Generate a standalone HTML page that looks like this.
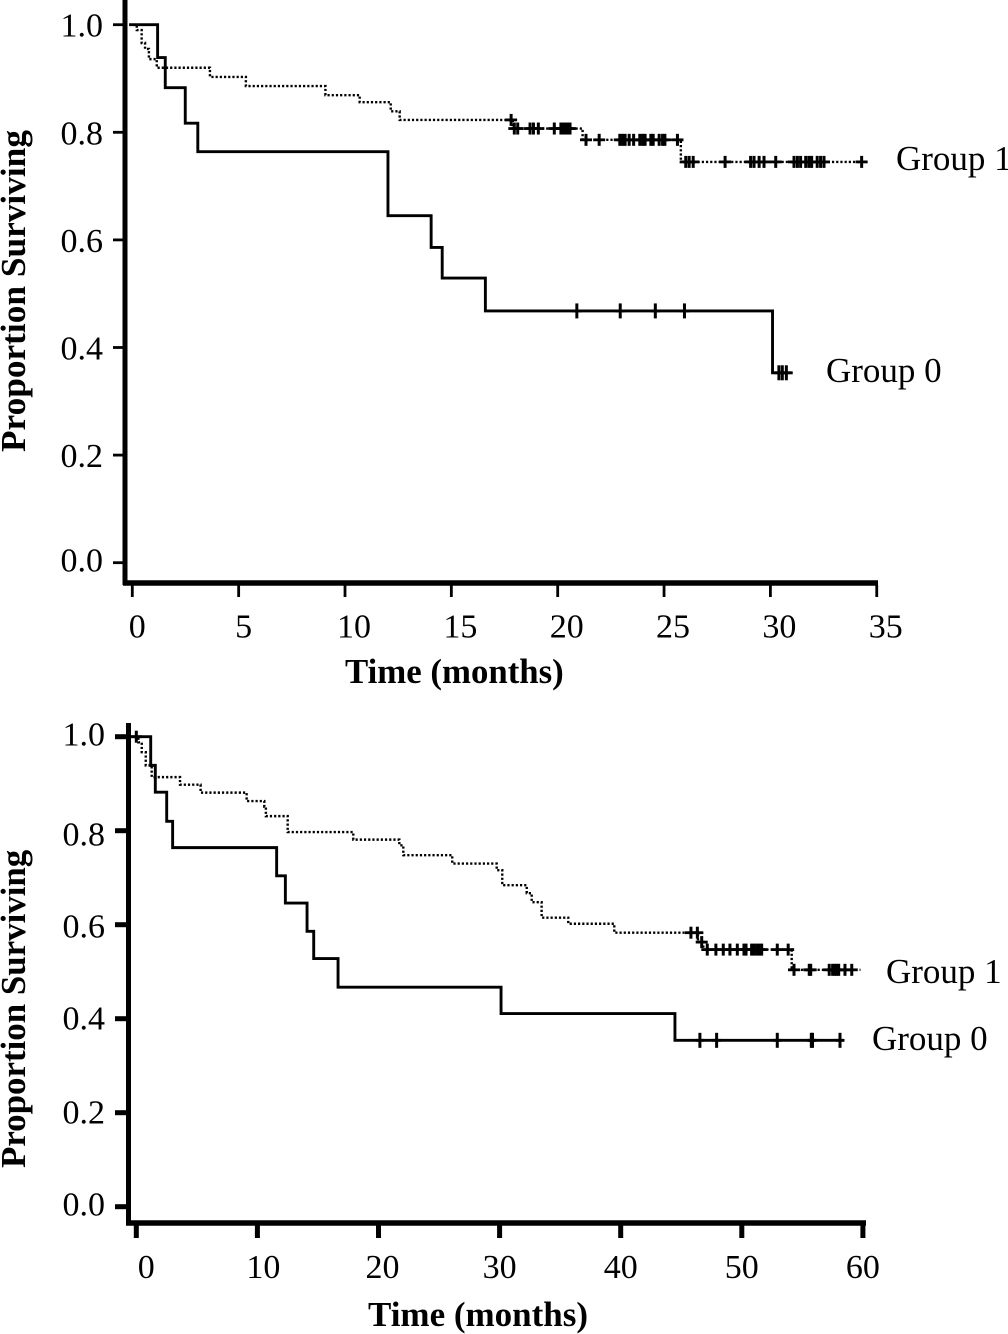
<!DOCTYPE html>
<html>
<head>
<meta charset="utf-8">
<title>Kaplan-Meier survival curves</title>
<style>
html,body{margin:0;padding:0;background:#fff;}
svg{display:block;}
text{font-family:"Liberation Serif",serif;fill:#000;}
.tick{font-size:34px;}
.title{font-weight:bold;}
.group{font-size:35px;}
</style>
</head>
<body>
<svg id="chart" width="1008" height="1334" viewBox="0 0 1008 1334" xmlns="http://www.w3.org/2000/svg">
  <rect x="0" y="0" width="1008" height="1334" fill="#fff"/>
  <text class="title" font-size="35.3" transform="translate(25,452) rotate(-90)">Proportion Surviving</text>
  <text class="title" font-size="34.8" x="345" y="683">Time (months)</text>
  <text class="group" x="896" y="170">Group 1</text>
  <text class="group" x="826" y="382">Group 0</text>
  <text class="title" font-size="34.9" transform="translate(25,1168) rotate(-90)">Proportion Surviving</text>
  <text class="title" font-size="35" x="368" y="1326">Time (months)</text>
  <text class="group" x="886" y="983">Group 1</text>
  <text class="group" x="872" y="1050">Group 0</text>
</svg>
<script>
var yTicks = [0, 0.2, 0.4, 0.6, 0.8, 1.0];
var yTickLabels = ["0.0", "0.2", "0.4", "0.6", "0.8", "1.0"];

var topXTicks = [0, 5, 10, 15, 20, 25, 30, 35];
var topXTickLabels = ["0", "5", "10", "15", "20", "25", "30", "35"];

var topG0Times = [-0.15, 1.19, 1.55, 2.49, 3.08, 12.02, 14.05, 14.57, 16.6, 30.1];
var topG0Surv = [1.0, 0.939, 0.883, 0.817, 0.764, 0.645, 0.586, 0.529, 0.468, 0.353];
var topG0Censored = [20.9, 22.94, 24.59, 25.96, 30.4, 30.56, 30.75];
var topG0End = 31.05;

var topG1Times = [0.05, 0.21, 0.44, 0.6, 0.78, 1.15, 3.65, 5.34, 9.08, 10.69, 12.15, 12.57, 17.89, 21.17, 25.79];
var topG1Surv = [1.0, 0.99, 0.966, 0.955, 0.936, 0.92, 0.903, 0.886, 0.869, 0.856, 0.839, 0.823, 0.807, 0.786, 0.745];
var topG1Censored = [17.81, 17.96, 18.12, 18.7, 18.86, 19.09, 19.84, 20.15, 20.26, 20.36, 20.47, 20.58, 21.33, 21.95, 22.92, 23.05, 23.17, 23.36, 23.57, 23.86, 23.99, 24.11, 24.38, 24.49, 24.77, 24.93, 25.04, 25.63, 26.02, 26.18, 26.37, 27.87, 29.07, 29.23, 29.47, 29.7, 30.25, 31.11, 31.27, 31.42, 31.66, 31.81, 31.94, 32.2, 32.36, 32.52, 34.29];
var topG1End = 34.54;

var bottomXTicks = [0, 10, 20, 30, 40, 50, 60];
var bottomXTickLabels = ["0", "10", "20", "30", "40", "50", "60"];

var bottomG0Times = [-0.5, 1.19, 1.57, 2.51, 3.0, 11.59, 12.31, 14.1, 14.65, 16.66, 30.12, 44.48];
var bottomG0Surv = [1.0, 0.939, 0.882, 0.82, 0.764, 0.704, 0.646, 0.586, 0.528, 0.467, 0.411, 0.354];
var bottomG0Censored = [46.54, 47.92, 52.93, 55.74, 55.84, 58.11];
var bottomG0End = 58.4;

var bottomG1Times = [-0.1, 0.17, 0.45, 0.78, 1.27, 3.61, 5.31, 9.11, 10.57, 10.7, 12.5, 17.92, 21.72, 22.05, 26.09, 29.76, 30.22, 32.24, 32.65, 33.47, 35.67, 39.47, 46.38, 46.82, 54.12];
var bottomG1Surv = [1.0, 0.988, 0.967, 0.939, 0.914, 0.898, 0.881, 0.863, 0.851, 0.831, 0.797, 0.781, 0.769, 0.748, 0.73, 0.716, 0.684, 0.667, 0.648, 0.615, 0.602, 0.583, 0.563, 0.547, 0.504];
var bottomG1Censored = [0, 45.8, 46.33, 46.69, 47.15, 47.86, 48.47, 49.02, 49.63, 50.18, 50.35, 50.81, 51.0, 51.23, 51.44, 51.64, 52.93, 53.83, 54.31, 55.57, 55.69, 57.22, 57.5, 57.67, 57.83, 58.0, 58.52, 59.08];
var bottomG1End = 59.8;

var svg = document.getElementById('chart');
var NS = 'http://www.w3.org/2000/svg';
var INK = '#000';

function drawLine(parent, x1, y1, x2, y2, w, name) {
  var el = document.createElementNS(NS, 'line');
  el.setAttribute('x1', x1);
  el.setAttribute('y1', y1);
  el.setAttribute('x2', x2);
  el.setAttribute('y2', y2);
  el.setAttribute('stroke', INK);
  el.setAttribute('stroke-width', w);
  
  
  parent.appendChild(el);
}

function drawText(x, y, label, anchor, name) {
  var el = document.createElementNS(NS, 'text');
  el.setAttribute('x', x);
  el.setAttribute('y', y);
  el.setAttribute('class', 'tick');
  el.setAttribute('text-anchor', anchor);
  el.textContent = label;
  
  
  svg.appendChild(el);
}

function stepPath(times, surv, end, x, y) {
  var d = 'M' + x(times[0]).toFixed(2) + ' ' + y(surv[0]).toFixed(2);
  for (var i = 1; i < times.length; i++) {
    d += 'H' + x(times[i]).toFixed(2) + 'V' + y(surv[i]).toFixed(2);
  }
  return d + 'H' + x(end).toFixed(2);
}

function survivalAt(times, surv, t) {
  var s = surv[0];
  for (var i = 0; i < times.length; i++) {
    if (times[i] <= t) { s = surv[i]; }
  }
  return s;
}

function drawCurve(prefix, times, surv, censored, end, x, y, dash, w, armX, armY) {
  var g = document.createElementNS(NS, 'g');
  
  
  svg.appendChild(g);
  var p = document.createElementNS(NS, 'path');
  p.setAttribute('d', stepPath(times, surv, end, x, y));
  p.setAttribute('fill', 'none');
  p.setAttribute('stroke', INK);
  p.setAttribute('stroke-width', w);
  if (dash) { p.setAttribute('stroke-dasharray', dash); }
  
  
  g.appendChild(p);
  censored.forEach(function (t) {
    var cx = x(t);
    var cy = y(survivalAt(times, surv, t));
    drawLine(g, cx - armX, cy, cx + armX, cy, 2.8, prefix + '-censor-arm');
    drawLine(g, cx, cy - armY, cx, cy + armY, 3, prefix + '-censor-mark');
  });
}

/* top panel */
var topX = function (t) { return 132.3 + 21.27 * t; };
var topY = function (v) { return 562.7 - 538 * v; };
drawLine(svg, 125, 0, 125, 585, 5, 'top-y-axis-line');
drawLine(svg, 123, 583, 878, 583, 5.5, 'top-x-axis-line');
yTicks.forEach(function (v, i) {
  drawLine(svg, 113, topY(v), 125, topY(v), 2.8, 'top-y-tick');
  drawText(103, topY(v) + (v === 0 ? 9 : 12), yTickLabels[i], 'end', 'top-y-tick-label');
});
topXTicks.forEach(function (t, i) {
  drawLine(svg, topX(t), 585, topX(t), 597, 2.8, 'top-x-tick');
  drawText(topX(t) + (t < 10 ? 5 : 9), 637.5, topXTickLabels[i], 'middle', 'top-x-tick-label');
});
drawCurve('top-group-1', topG1Times, topG1Surv, topG1Censored, topG1End, topX, topY, '2.2 2', 2.4, 6, 6);
drawCurve('top-group-0', topG0Times, topG0Surv, topG0Censored, topG0End, topX, topY, null, 2.9, 5, 7.5);

/* bottom panel */
var bottomX = function (t) { return 136.3 + 12.11 * t; };
var bottomY = function (v) { return 1206.7 - 470 * v; };
drawLine(svg, 128.5, 723, 128.5, 1225, 5, 'bottom-y-axis-line');
drawLine(svg, 126, 1223, 866, 1223, 5.5, 'bottom-x-axis-line');
yTicks.forEach(function (v, i) {
  var nudge = v === 1 ? 9 : (v === 0.8 ? 15 : (v === 0.6 ? 13 : (v === 0 ? 9 : 11)));
  drawLine(svg, 115, bottomY(v), 127, bottomY(v), 5, 'bottom-y-tick');
  drawText(105, bottomY(v) + nudge, yTickLabels[i], 'end', 'bottom-y-tick-label');
});
bottomXTicks.forEach(function (t, i) {
  drawLine(svg, bottomX(t), 1225, bottomX(t), 1238, 5, 'bottom-x-tick');
  drawText(bottomX(t) + (t === 0 ? 10 : (t === 10 ? 6 : (t === 20 ? 4 : 0))), 1278, bottomXTickLabels[i], 'middle', 'bottom-x-tick-label');
});
drawCurve('bottom-group-1', bottomG1Times, bottomG1Surv, bottomG1Censored, bottomG1End, bottomX, bottomY, '2.2 2', 2.4, 6, 6);
drawCurve('bottom-group-0', bottomG0Times, bottomG0Surv, bottomG0Censored, bottomG0End, bottomX, bottomY, null, 2.9, 4.5, 7.5);
</script>
</body>
</html>
